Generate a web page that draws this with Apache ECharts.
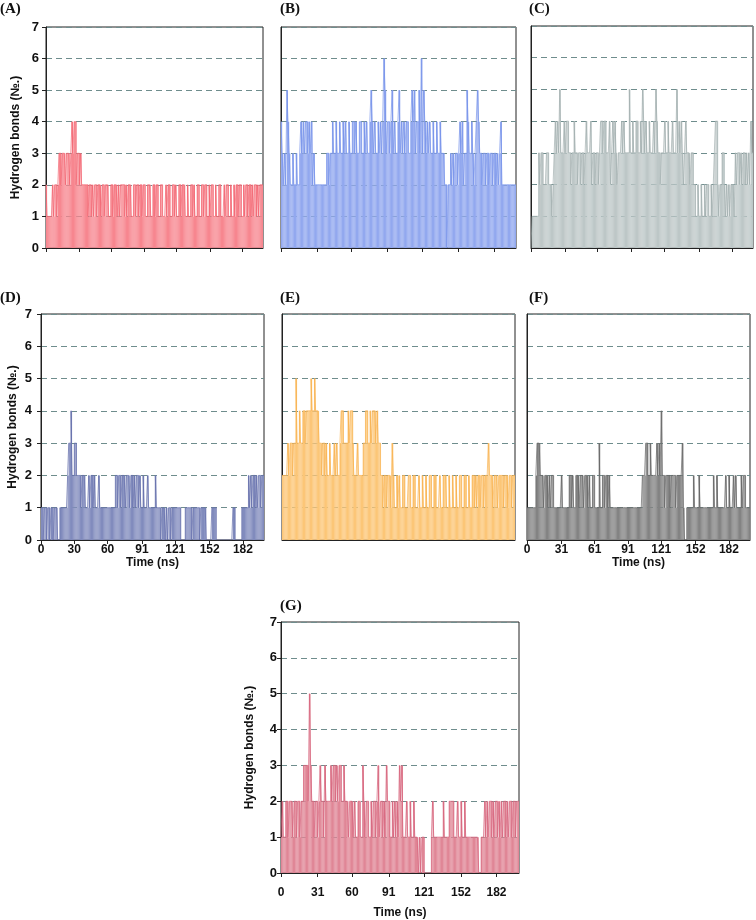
<!DOCTYPE html>
<html>
<head>
<meta charset="utf-8">
<script src="https://cdn.jsdelivr.net/npm/echarts@6/dist/echarts.min.js"></script>
<style>
  html, body { margin: 0; background: #fff; }
  #chart { width: 756px; height: 920px; }
</style>
</head>
<body>
<div id="chart"></div>
<script>
// H-bond counts, one value per ns (0..200 ns)
const hbA = [
  2,1,1,1,1,1,2,1,2,2, 1,2,3,3,2,3,3,3,2,3, 3,3,2,3,4,3,4,4,2,3, 3,2,3,2,2,2,2,2,2,1,
  2,2,1,2,1,2,2,1,2,2, 2,1,2,2,1,2,2,2,1,1, 2,2,1,2,2,2,1,2,1,2, 2,2,2,1,2,1,2,2,2,1,
  1,2,2,1,2,2,1,2,2,1, 2,2,1,1,2,2,2,1,1,2, 2,1,2,2,1,1,2,2,1,1, 1,2,1,2,2,1,1,2,2,1,
  2,1,1,2,2,1,2,2,2,1, 1,2,1,1,2,2,1,2,1,1, 2,2,1,1,2,2,1,2,2,1, 1,2,1,2,2,1,1,2,1,1,
  2,2,1,1,1,2,1,2,2,1, 1,2,1,1,2,1,2,2,1,2, 2,1,1,2,1,2,2,1,2,2, 1,2,1,2,2,1,2,1,2,2, 2
];
const hbB = [
  4,3,2,3,2,5,4,3,2,2, 3,2,2,3,2,2,3,4,3,4, 3,4,4,3,4,3,4,2,3,2, 2,2,2,2,2,2,2,2,2,3,
  3,2,3,3,4,3,3,4,3,3, 4,3,3,4,3,4,3,3,4,3, 3,4,4,3,4,3,3,4,4,3, 3,4,3,4,3,3,4,5,4,3,
  4,3,3,4,3,4,3,4,6,5, 3,4,4,3,4,5,3,4,3,3, 4,5,3,4,3,4,3,4,4,3, 3,4,5,4,5,3,4,4,5,3,
  6,3,5,4,3,4,3,4,3,3, 4,3,3,4,3,3,4,3,3,3, 2,2,0,2,2,3,2,3,2,3, 3,2,3,4,3,4,2,3,3,5,
  4,3,3,4,3,2,3,4,5,4, 3,3,2,3,3,2,3,3,2,3, 3,2,3,3,2,3,2,3,4,2, 2,2,2,2,2,2,2,2,2,2, 2
];
const hbC = [
  0,1,1,1,1,1,1,3,2,3, 3,2,2,2,3,3,2,2,2,1, 2,3,4,3,4,3,5,3,3,3, 4,3,4,4,3,3,2,3,3,4,
  3,3,2,3,3,2,3,3,2,3, 4,3,3,3,4,2,3,3,2,3, 3,2,3,4,4,3,4,4,3,3, 3,4,2,3,4,3,4,3,2,3,
  3,3,4,3,4,3,3,3,3,5, 3,3,4,3,3,4,4,3,3,4, 3,5,4,3,4,3,3,4,3,3, 3,4,3,5,4,3,3,2,3,3,
  3,4,3,3,4,3,3,3,4,3, 3,3,5,3,4,3,4,3,2,3, 4,3,3,3,2,3,3,2,2,1, 1,2,1,1,2,1,1,2,1,2,
  2,1,1,2,1,2,3,4,4,2, 1,2,2,3,3,2,1,2,1,2, 1,2,2,2,1,3,2,3,3,2, 3,2,3,3,2,3,2,3,2,4, 3
];
const hbD = [
  1,1,0,1,1,0,1,1,0,1, 1,0,1,1,1,0,0,1,1,1, 1,1,1,1,2,3,3,4,2,2, 3,3,2,2,2,2,1,2,2,2,
  1,1,1,2,1,2,2,1,2,1, 1,1,2,1,1,1,1,1,1,1, 1,1,1,1,1,1,1,2,2,1, 2,2,1,2,2,2,1,2,2,2,
  1,2,2,1,2,1,2,2,1,2, 1,1,2,1,1,1,2,1,1,1, 1,1,1,2,1,1,1,1,0,1, 1,1,0,1,0,1,1,0,1,1,
  1,1,1,1,1,1,0,0,0,0, 1,1,1,1,1,1,0,1,1,1, 1,1,1,0,1,1,1,1,1,0, 0,0,0,0,1,1,1,1,0,0,
  0,0,0,0,0,0,0,0,0,0, 0,0,0,1,1,0,0,0,0,0, 0,1,1,1,1,1,1,2,1,2, 1,2,2,1,2,1,2,2,1,2, 2
];
const hbE = [
  2,2,2,2,2,3,2,3,3,2, 3,3,5,3,3,4,3,3,4,4, 3,4,4,4,4,5,4,4,5,4, 4,4,3,3,2,3,3,2,3,2,
  2,3,2,2,2,3,2,3,2,2, 3,4,4,3,3,3,3,4,3,4, 4,3,2,2,2,3,2,2,2,2, 3,3,4,4,3,3,4,3,4,4,
  4,3,4,3,3,2,2,1,2,2, 1,2,2,2,1,3,2,1,1,2, 1,2,1,1,2,2,1,1,1,2, 2,1,1,2,2,1,1,1,2,1,
  1,2,1,1,2,1,1,2,2,1, 1,2,2,1,1,1,2,1,1,2, 2,2,1,1,2,1,1,2,1,1, 2,1,1,2,2,1,1,2,2,1,
  1,2,1,1,2,2,1,2,1,2, 2,1,2,2,1,2,2,2,3,2, 2,2,1,2,2,2,1,2,2,2, 2,1,2,2,2,1,2,2,1,2, 2
];
const hbF = [
  1,1,1,1,1,1,1,1,2,3, 3,3,2,2,2,1,2,2,2,1, 2,1,2,2,1,1,1,1,1,1, 1,2,1,1,1,1,1,1,2,2,
  1,2,1,1,2,2,2,1,2,2, 2,1,2,2,2,1,2,1,1,2, 2,1,1,1,1,3,1,1,2,2, 1,2,2,1,2,1,1,1,1,1,
  1,1,1,1,1,1,1,1,1,1, 1,1,1,1,1,1,1,1,1,1, 1,1,1,1,2,2,2,3,3,2, 2,3,2,2,2,2,2,3,2,3,
  2,4,2,2,1,2,2,2,2,1, 2,2,2,2,1,2,2,2,2,2, 3,1,0,0,1,1,1,1,1,1, 2,1,1,1,1,2,1,1,1,1,
  1,1,1,1,1,1,1,1,2,1, 1,2,1,1,1,1,1,1,1,2, 1,1,2,1,1,1,2,1,2,1, 1,1,1,2,1,2,2,1,1,1, 1
];
const hbG = [
  1,2,1,1,2,2,1,2,2,2, 1,2,2,1,2,2,1,2,2,3, 3,3,3,2,5,3,2,2,1,2, 2,1,2,3,2,2,1,3,2,2,
  2,2,3,2,3,3,2,3,2,3, 3,2,2,3,2,2,2,1,2,2, 2,1,2,1,1,2,2,1,1,3, 2,1,2,2,1,1,2,1,2,2,
  1,2,3,1,2,2,1,2,1,3, 2,2,1,1,2,1,2,1,2,1, 3,2,3,1,1,1,2,1,1,2, 1,1,2,1,1,1,0,1,0,1,
  1,0,0,0,0,0,0,1,2,1, 1,1,1,1,1,1,1,2,1,1, 1,1,2,2,2,2,1,1,1,2, 1,1,2,1,1,2,1,1,1,1,
  1,1,1,1,1,1,1,0,0,1, 1,1,2,1,2,1,2,2,1,2, 1,2,2,1,2,1,2,1,2,2, 1,2,1,2,2,1,2,2,1,2, 2
];

const ticksA = [0, 31, 60, 91, 121, 152, 182];
const ticksD = [0, 30, 60, 91, 121, 152, 182];
const ticksF = [0, 31, 61, 91, 121, 152, 182];
const ticksG = [0, 31, 60, 91, 121, 152, 182];
const panelLabels = ["(A)", "(B)", "(C)", "(D)", "(E)", "(F)", "(G)"];

const numFont = "Liberation Sans";
const xMax = 201;
const panels = [
  { data: hbA, line: "#f2606d", fill: "#f7868f", grid: [46, 27, 217, 221], yLab: true,  xLab: false, ticks: ticksA, lab: [0, 2],    yGap: 24, yMargin: 7 },
  { data: hbB, line: "#7490ea", fill: "#92a8ef", grid: [281, 27, 235, 221], yLab: false, xLab: false, ticks: ticksA, lab: [280, 2] },
  { data: hbC, line: "#a0aeae", fill: "#bdc7c7", grid: [531, 26, 222, 222], yLab: false, xLab: false, ticks: ticksA, lab: [529, 2] },
  { data: hbD, line: "#616ca9", fill: "#818bbd", grid: [41, 314, 223, 226], yLab: true,  xLab: true,  ticks: ticksD, lab: [0, 291],  yGap: 22, yMargin: 9, xMargin: 4, xGap: 17 },
  { data: hbE, line: "#f8b04c", fill: "#fcc677", grid: [282, 314, 233, 226], yLab: false, xLab: false, ticks: null, lab: [280, 291] },
  { data: hbF, line: "#636363", fill: "#838383", grid: [527, 314, 223, 226], yLab: false, xLab: true,  ticks: ticksF, lab: [529, 291], xMargin: 4, xGap: 17 },
  { data: hbG, line: "#d65f79", fill: "#e08696", grid: [281, 622, 238, 253], yLab: true,  xLab: true,  ticks: ticksG, lab: [280, 599], yGap: 25, yMargin: 4, xMargin: 14, xGap: 34 }
];

const grids = [], xAxes = [], yAxes = [], series = [], titles = [];
panels.forEach(function (p, k) {
  const pitch = p.grid[2] / xMax;
  grids.push({
    left: p.grid[0], top: p.grid[1], width: p.grid[2], height: p.grid[3],
    show: true, borderColor: "#222", borderWidth: 1, backgroundColor: "transparent"
  });
  xAxes.push({
    type: "value", gridIndex: k, min: 0, max: xMax,
    axisLine: { show: true, onZero: false, lineStyle: { color: "#222", width: 1 } },
    axisTick: p.ticks ? { show: true, customValues: p.ticks, length: 4, lineStyle: { color: "#222" } } : { show: false },
    axisLabel: p.xLab ? {
      show: true, customValues: p.ticks, margin: p.xMargin,
      fontFamily: numFont, fontWeight: "bold", fontSize: 12, color: "#111"
    } : { show: false },
    splitLine: { show: false },
    name: p.xLab ? "Time (ns)" : "",
    nameLocation: "middle", nameGap: p.xGap || 20,
    nameTextStyle: { fontFamily: numFont, fontWeight: "bold", fontSize: 12, color: "#111" }
  });
  yAxes.push({
    type: "value", gridIndex: k, min: 0, max: 7, interval: 1,
    axisLine: { show: true, lineStyle: { color: "#222", width: 1 } },
    axisTick: { show: p.yLab, length: 4, lineStyle: { color: "#222" } },
    axisLabel: {
      show: p.yLab, margin: p.yMargin || 8,
      fontFamily: numFont, fontWeight: "bold", fontSize: 13, color: "#111"
    },
    splitLine: { show: true, lineStyle: { color: "#6f8d8d", type: [6, 4], width: 1.2 } },
    name: p.yLab ? "Hydrogen bonds (№.)" : "",
    nameLocation: "middle", nameGap: p.yGap || 24,
    nameTextStyle: { fontFamily: numFont, fontWeight: "bold", fontSize: 12, color: "#111" }
  });
  // columns: one per ns bin
  series.push({
    type: "bar", xAxisIndex: k, yAxisIndex: k,
    barWidth: pitch * 1.02, silent: true, animation: false,
    data: p.data.map(function (v, i) { return [i + 0.5, v]; }),
    itemStyle: { color: p.fill },
    z: 1
  });
  // column outlines
  series.push({
    type: "line", xAxisIndex: k, yAxisIndex: k, step: "end",
    symbol: "none", silent: true, animation: false,
    data: p.data.map(function (v, i) { return [i, v]; }).concat([[p.data.length, p.data[p.data.length - 1]]]),
    lineStyle: { color: p.line, width: 0.7 },
    z: 2
  });
  titles.push({
    text: panelLabels[k], left: p.lab[0], top: p.lab[1], padding: 0,
    textStyle: { fontFamily: "Liberation Serif", fontWeight: "bold", fontSize: 15, color: "#111" }
  });
});

const chart = echarts.init(document.getElementById("chart"), null, { renderer: "canvas" });
chart.setOption({
  backgroundColor: "#fff",
  animation: false,
  title: titles,
  grid: grids,
  xAxis: xAxes,
  yAxis: yAxes,
  series: series
});
</script>
</body>
</html>
